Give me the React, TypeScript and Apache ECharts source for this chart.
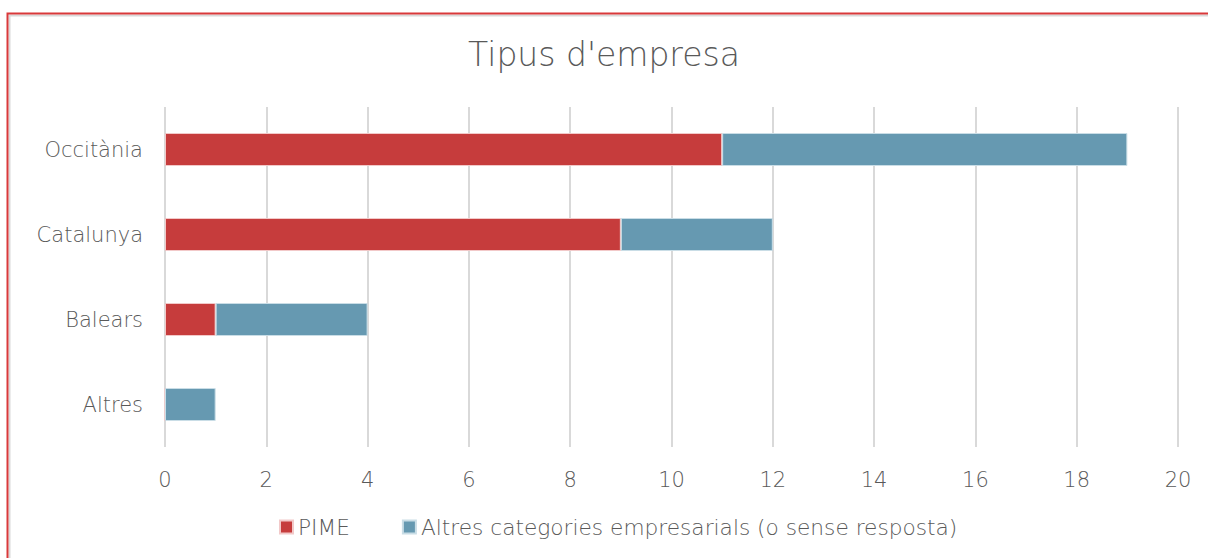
import React, { useEffect, useRef } from "react";
import * as echarts from "echarts";

const categories = ["Altres", "Balears", "Catalunya", "Occitània"];
const pimeValues = [0, 1, 9, 11];
const otherValues = [1, 3, 3, 8];
const seriesNames = ["PIME", "Altres categories empresarials (o sense resposta)"];
const titleText = "Tipus d'empresa";

const FONT = "'DejaVu Sans', sans-serif";
const TEXT = "#595959";

export default function App() {
  const ref = useRef<HTMLDivElement>(null);
  useEffect(() => {
    if (!ref.current) return;
    const chart = echarts.init(ref.current, undefined, { renderer: "svg" });
    chart.setOption({
      animation: false,
      backgroundColor: "#ffffff",
      textStyle: { fontFamily: FONT },
      title: {
        text: titleText,
        left: "center",
        top: 33,
        textStyle: { fontFamily: FONT, fontSize: 33, fontWeight: 200, color: TEXT },
      },
      legend: {
        top: 516,
        left: 279,
        padding: 0,
        itemWidth: 13,
        itemHeight: 13,
        itemGap: 52,
        icon: "rect",
        textStyle: { fontFamily: FONT, fontSize: 21.7, fontWeight: 200, color: TEXT },
        data: seriesNames,
      },
      grid: { left: 165, right: 30, top: 107, bottom: 111, containLabel: false },
      xAxis: {
        type: "value",
        min: 0,
        max: 20,
        interval: 2,
        axisLine: { show: false },
        axisTick: { show: false },
        splitLine: { lineStyle: { color: "#d9d9d9", width: 2 } },
        axisLabel: { fontFamily: FONT, fontSize: 21, fontWeight: 200, color: TEXT, margin: 22 },
      },
      yAxis: {
        type: "category",
        data: categories,
        axisLine: { show: false },
        axisTick: { show: false },
        axisLabel: { fontFamily: FONT, fontSize: 21, fontWeight: 200, color: TEXT, margin: 22 },
      },
      series: [
        {
          name: seriesNames[0],
          type: "bar",
          stack: "total",
          barWidth: 33,
          data: pimeValues,
          itemStyle: { color: "#C63C3C", borderColor: "#f2c9c9", borderWidth: 1 },
        },
        {
          name: seriesNames[1],
          type: "bar",
          stack: "total",
          barWidth: 33,
          data: otherValues,
          itemStyle: { color: "#6699B1", borderColor: "#c9dde6", borderWidth: 1 },
        },
      ],
      graphic: [
        {
          type: "rect",
          shape: { x: 9.5, y: 15.5, width: 1300, height: 700 },
          style: { fill: "none", stroke: "#d9d9d9", lineWidth: 2 },
          silent: true,
        },
        {
          type: "rect",
          shape: { x: 7.5, y: 13.5, width: 1300, height: 700 },
          style: { fill: "none", stroke: "#D9393A", lineWidth: 2 },
          silent: true,
        },
      ],
    });
    return () => chart.dispose();
  }, []);
  return (
    <div
      ref={ref}
      style={{ position: "fixed", left: 0, top: 0, width: 1208, height: 558, background: "#fff" }}
    />
  );
}
